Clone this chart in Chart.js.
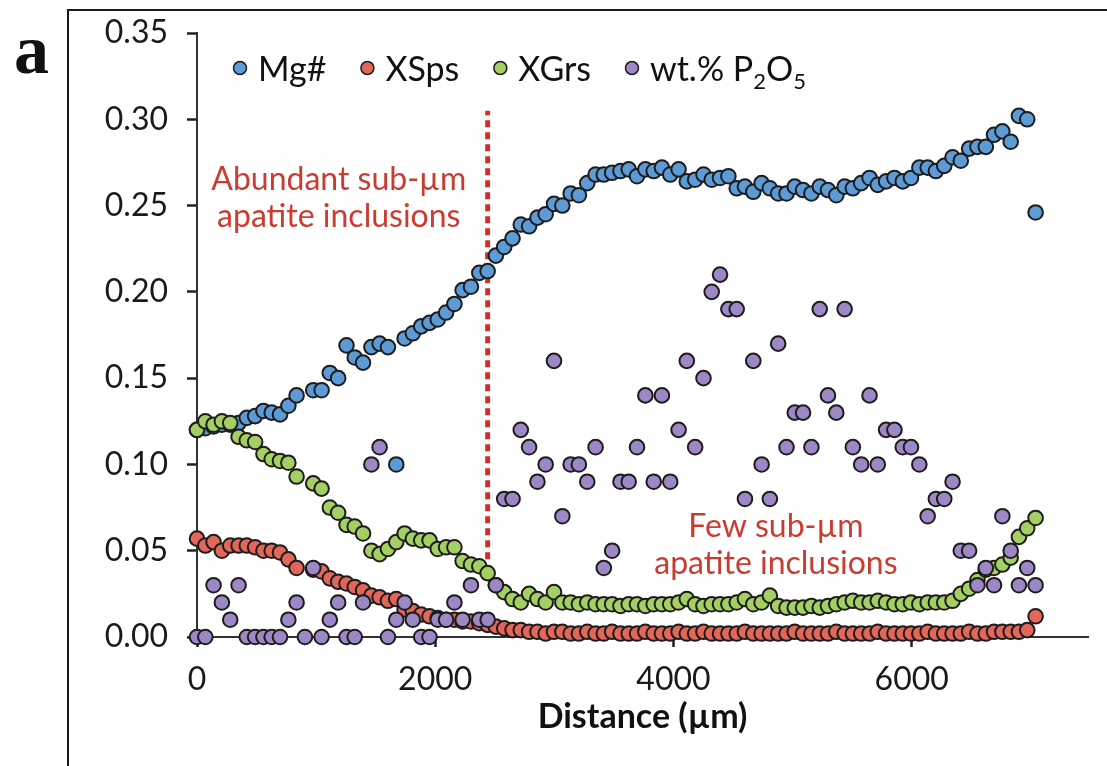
<!DOCTYPE html>
<html>
<head>
<meta charset="utf-8">
<script src="https://cdn.jsdelivr.net/npm/chart.js@4.4.1/dist/chart.umd.min.js"></script>
<style>
  body { margin: 0; background: #fff; }
  #wrap { position: relative; width: 1107px; height: 766px; overflow: hidden; }
  #frame { position: absolute; left: 67px; top: 9px; width: 1100px; height: 800px;
           border-left: 2px solid #1a1a1a; border-top: 2px solid #1a1a1a; }
  canvas { position: absolute; left: 0; top: 0; }
</style>
</head>
<body>
<div id="wrap">
  <div id="frame"></div>
  <canvas id="myChart" width="1107" height="766"></canvas>
</div>
<script>
const chart = document.getElementById('myChart')

// sample positions along the traverse (µm)
const distance = [
    0, 70, 139, 209, 279, 349, 418, 488, 558, 627,
    697, 767, 836, 906, 976, 1046, 1115, 1185, 1255, 1324,
    1394, 1464, 1533, 1603, 1673, 1743, 1812, 1882, 1952, 2021,
    2091, 2161, 2230, 2300, 2370, 2440, 2509, 2579, 2649, 2718,
    2788, 2858, 2927, 2997, 3067, 3137, 3206, 3276, 3346, 3415,
    3485, 3555, 3624, 3694, 3764, 3834, 3903, 3973, 4043, 4112,
    4182, 4252, 4321, 4391, 4461, 4531, 4600, 4670, 4740, 4809,
    4879, 4949, 5018, 5088, 5158, 5228, 5297, 5367, 5437, 5506,
    5576, 5646, 5715, 5785, 5855, 5925, 5994, 6064, 6134, 6203,
    6273, 6343, 6412, 6482, 6552, 6622, 6691, 6761, 6831, 6900,
    6970, 7040
]

const mgNumber = [
    0.120, 0.121, 0.122, 0.123, 0.123, 0.124, 0.127, 0.128, 0.131, 0.130,
    0.129, 0.134, 0.140, null, 0.143, 0.143, 0.153, 0.150, 0.169, 0.162,
    0.159, 0.168, 0.170, 0.168, 0.100, 0.173, 0.176, 0.180, 0.182, 0.184,
    0.188, 0.193, 0.201, 0.203, 0.211, 0.212, 0.221, 0.226, 0.231, 0.239,
    0.238, 0.243, 0.245, 0.251, 0.250, 0.257, 0.256, 0.263, 0.268, 0.268,
    0.269, 0.270, 0.271, 0.267, 0.271, 0.270, 0.272, 0.268, 0.271, 0.264,
    0.265, 0.268, 0.265, 0.266, 0.267, 0.260, 0.261, 0.258, 0.263, 0.260,
    0.257, 0.257, 0.261, 0.259, 0.257, 0.261, 0.259, 0.256, 0.261, 0.260,
    0.263, 0.266, 0.262, 0.264, 0.266, 0.264, 0.266, 0.272, 0.272, 0.270,
    0.273, 0.278, 0.276, 0.283, 0.284, 0.284, 0.291, 0.293, 0.287, 0.302,
    0.300, 0.246
]

const xSps = [
    0.057, 0.053, 0.055, 0.050, 0.053, 0.053, 0.053, 0.052, 0.050, 0.050,
    0.049, 0.045, 0.040, null, 0.039, 0.038, 0.034, 0.032, 0.031, 0.029,
    0.027, 0.024, 0.023, 0.021, 0.022, 0.016, 0.015, 0.013, 0.012, 0.011,
    0.010, 0.010, 0.009, 0.009, 0.008, 0.007, 0.006, 0.005, 0.004, 0.004,
    0.003, 0.003, 0.002, 0.003, 0.003, 0.002, 0.002, 0.003, 0.002, 0.002,
    0.003, 0.002, 0.002, 0.002, 0.003, 0.002, 0.002, 0.002, 0.003, 0.002,
    0.002, 0.003, 0.002, 0.002, 0.002, 0.002, 0.003, 0.002, 0.002, 0.002,
    0.002, 0.002, 0.003, 0.002, 0.002, 0.002, 0.002, 0.003, 0.002, 0.002,
    0.002, 0.002, 0.003, 0.002, 0.002, 0.002, 0.002, 0.002, 0.003, 0.002,
    0.002, 0.002, 0.002, 0.003, 0.002, 0.002, 0.003, 0.003, 0.003, 0.003,
    0.004, 0.012
]

const xGrs = [
    0.120, 0.125, 0.123, 0.125, 0.124, 0.116, 0.114, 0.113, 0.106, 0.103,
    0.102, 0.101, 0.093, null, 0.089, 0.086, 0.075, 0.072, 0.065, 0.064,
    0.060, 0.050, 0.048, 0.051, 0.055, 0.060, 0.057, 0.056, 0.056, 0.051,
    0.052, 0.052, 0.044, 0.042, 0.041, 0.037, 0.030, 0.026, 0.022, 0.020,
    0.025, 0.022, 0.020, 0.026, 0.020, 0.020, 0.019, 0.020, 0.019, 0.019,
    0.019, 0.018, 0.019, 0.019, 0.018, 0.019, 0.019, 0.019, 0.020, 0.022,
    0.019, 0.018, 0.019, 0.019, 0.019, 0.020, 0.022, 0.019, 0.020, 0.024,
    0.018, 0.017, 0.017, 0.017, 0.018, 0.017, 0.018, 0.019, 0.020, 0.021,
    0.020, 0.020, 0.021, 0.020, 0.019, 0.019, 0.020, 0.019, 0.020, 0.020,
    0.020, 0.021, 0.025, 0.028, 0.033, 0.039, 0.040, 0.042, 0.046, 0.058,
    0.063, 0.069
]

const p2o5 = [
    0, 0, 0.03, 0.02, 0.01, 0.03, 0, 0, 0, 0,
    0, 0.01, 0.02, 0, 0.04, 0, 0.01, 0.02, 0, 0,
    0.02, 0.10, 0.11, 0, 0.01, 0.02, 0.01, 0, 0, 0.01,
    0.01, 0.02, 0.01, 0.03, 0.01, 0.01, 0.03, 0.08, 0.08, 0.12,
    0.11, 0.09, 0.10, 0.16, 0.07, 0.10, 0.10, 0.09, 0.11, 0.04,
    0.05, 0.09, 0.09, 0.11, 0.14, 0.09, 0.14, 0.09, 0.12, 0.16,
    0.11, 0.15, 0.20, 0.21, 0.19, 0.19, 0.08, 0.16, 0.10, 0.08,
    0.17, 0.11, 0.13, 0.13, 0.11, 0.19, 0.14, 0.13, 0.19, 0.11,
    0.10, 0.14, 0.10, 0.12, 0.12, 0.11, 0.11, 0.10, 0.07, 0.08,
    0.08, 0.09, 0.05, 0.05, 0.03, 0.04, 0.03, 0.07, 0.05, 0.03,
    0.04, 0.03
]

const xTicks = [0, 2000, 4000, 6000]
const boundaryX = 2440
const boundaryY = [0.045, 0.305]
const noteX = [1190, 4860]
const noteY = [0.259, 0.058]
const noteLines = [
    ['Abundant sub-µm', 'apatite inclusions'],
    ['Few sub-µm', 'apatite inclusions']
]

const fontFamily = 'Lato, "Open Sans", sans-serif'
const noteColor = '#cc3b2f'

const series = [
    { label: 'Mg#', values: mgNumber, color: '#5c9bd6', order: 4 },
    { label: 'XSps', values: xSps, color: '#e2665a', order: 3 },
    { label: 'XGrs', values: xGrs, color: '#a4cf62', order: 2 },
    { label: 'wt.% P2O5', values: p2o5, color: '#9b88c5', order: 1 }
]

function toPoints(values) {
    let points = []
    for (let i = 0; i < values.length; i++) {
        if (values[i] !== null) points.push({ x: distance[i], y: values[i] })
    }
    return points
}

// legend drawn inside the plot, panel letter and the two notes
const overlayPlugin = {
    id: 'overlay',
    afterDraw(c) {
        const ctx = c.ctx
        const area = c.chartArea
        ctx.save()

        ctx.fillStyle = '#111'
        ctx.font = 'bold 70px "Liberation Serif"'
        ctx.textBaseline = 'alphabetic'
        ctx.textAlign = 'left'
        ctx.fillText('a', 14, 73)

        let x = area.left + 43
        const y = area.top + 35
        ctx.font = '34px ' + fontFamily
        series.forEach(s => {
            ctx.beginPath()
            ctx.arc(x, y, 6.5, 0, Math.PI * 2)
            ctx.fillStyle = s.color
            ctx.fill()
            ctx.lineWidth = 1.5
            ctx.strokeStyle = '#1c1c1c'
            ctx.stroke()
            ctx.fillStyle = '#111'
            let tx = x + 18
            if (s.label === 'wt.% P2O5') {
                const parts = [['wt.% P', 0], ['2', 1], ['O', 0], ['5', 1]]
                parts.forEach(p => {
                    ctx.font = (p[1] ? '22px ' : '34px ') + fontFamily
                    ctx.fillText(p[0], tx, y + 13 + p[1] * 8)
                    tx += ctx.measureText(p[0]).width
                })
                ctx.font = '34px ' + fontFamily
            } else {
                ctx.fillText(s.label, tx, y + 13)
                tx += ctx.measureText(s.label).width
            }
            x = tx + 41
        })

        ctx.font = '32px ' + fontFamily
        ctx.fillStyle = noteColor
        ctx.textAlign = 'center'
        for (let i = 0; i < noteLines.length; i++) {
            const nx = c.scales.x.getPixelForValue(noteX[i])
            const ny = c.scales.y.getPixelForValue(noteY[i])
            noteLines[i].forEach((line, j) => ctx.fillText(line, nx, ny + j * 37))
        }
        ctx.restore()
    }
}

const datasets = series.map(s => ({
    label: s.label,
    data: toPoints(s.values),
    order: s.order,
    backgroundColor: s.color,
    borderColor: '#1c1c1c',
    pointRadius: 7.3,
    pointHoverRadius: 7.3,
    pointBorderWidth: 2,
    clip: false
}))

datasets.push({
    type: 'line',
    label: 'boundary',
    data: [{ x: boundaryX, y: boundaryY[0] }, { x: boundaryX, y: boundaryY[1] }],
    order: 5,
    borderColor: '#d12f27',
    borderWidth: 5,
    borderDash: [7, 5],
    pointRadius: 0,
    clip: false
})

new Chart(chart, {
    type: 'scatter',
    data: { datasets: datasets },
    options: {
        responsive: false,
        animation: false,
        events: [],
        layout: { padding: { top: 33, right: 19, left: 0, bottom: 0 } },
        plugins: {
            legend: { display: false },
            tooltip: { enabled: false }
        },
        scales: {
            x: {
                type: 'linear',
                min: 0,
                max: 7480,
                afterBuildTicks: scale => { scale.ticks = xTicks.map(v => ({ value: v })) },
                afterFit: scale => { scale.height = 129 },
                grid: { drawOnChartArea: false, tickLength: 10, tickWidth: 2.5, tickColor: '#222' },
                border: { color: '#333', width: 2 },
                ticks: {
                    color: '#1a1a1a',
                    font: { family: fontFamily, size: 32 },
                    padding: 13,
                    maxRotation: 0,
                    callback: v => String(v)
                },
                title: {
                    display: true,
                    text: 'Distance (µm)',
                    color: '#111',
                    font: { family: fontFamily, size: 34, weight: 'bold' },
                    padding: { top: 0, bottom: 29 }
                }
            },
            y: {
                min: 0,
                max: 0.35,
                afterFit: scale => {
                    scale.width = 197
                    scale.paddingTop = 0
                    scale.paddingBottom = 0
                },
                grid: { drawOnChartArea: false, tickLength: 10, tickWidth: 2.5, tickColor: '#222' },
                border: { color: '#333', width: 2 },
                ticks: {
                    stepSize: 0.05,
                    color: '#1a1a1a',
                    font: { family: fontFamily, size: 32 },
                    padding: 19,
                    callback: v => v.toFixed(2)
                }
            }
        }
    },
    plugins: [overlayPlugin]
})
</script>
</body>
</html>
